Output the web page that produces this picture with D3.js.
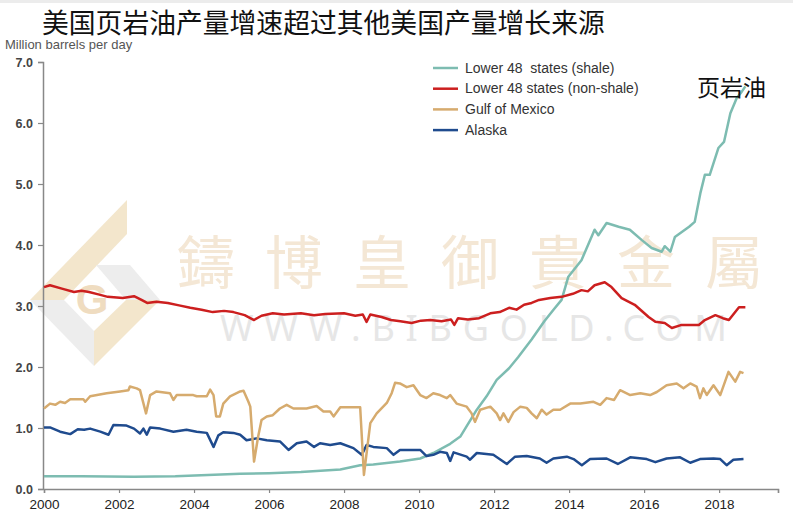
<!DOCTYPE html>
<html>
<head>
<meta charset="utf-8">
<script src="https://cdn.jsdelivr.net/npm/d3@7"></script>
<style>
  body { margin: 0; background: #fff; }
  svg { display: block; }
</style>
</head>
<body>
<div id="chart"></div>
<script>
// values, [year, million barrels per day]
const shale = [[2000.0,0.21],[2001.0,0.21],[2002.4,0.20],[2003.5,0.21],[2005.23,0.25],[2006.0,0.26],[2006.85,0.28],[2007.9,0.32],[2008.43,0.39],[2008.78,0.40],[2009.49,0.45],[2010.03,0.50],[2010.38,0.59],[2010.83,0.74],[2011.1,0.86],[2011.27,1.03],[2011.54,1.30],[2011.8,1.52],[2012.07,1.79],[2012.4,1.98],[2012.64,2.16],[2013.0,2.45],[2013.34,2.75],[2013.6,2.95],[2013.8,3.10],[2013.98,3.48],[2014.33,3.75],[2014.68,4.25],[2014.78,4.16],[2015.0,4.36],[2015.32,4.30],[2015.62,4.25],[2015.94,4.08],[2016.2,3.95],[2016.47,3.89],[2016.55,3.98],[2016.7,3.89],[2016.82,4.13],[2017.2,4.30],[2017.35,4.38],[2017.5,4.85],[2017.62,5.15],[2017.75,5.15],[2017.98,5.59],[2018.13,5.69],[2018.3,6.16],[2018.47,6.41],[2018.6,6.51],[2018.7,6.60]];

const nonShale = [[2000.0,3.31],[2000.16,3.34],[2000.5,3.28],[2000.8,3.23],[2001.0,3.25],[2001.2,3.23],[2001.45,3.19],[2001.7,3.15],[2002.1,3.13],[2002.4,3.16],[2002.6,3.10],[2002.75,3.05],[2003.0,3.07],[2003.3,3.05],[2003.6,3.01],[2003.9,2.97],[2004.2,2.94],[2004.5,2.90],[2004.8,2.92],[2005.05,2.90],[2005.35,2.85],[2005.6,2.77],[2005.8,2.84],[2006.1,2.88],[2006.4,2.86],[2006.85,2.88],[2007.2,2.85],[2007.5,2.87],[2008.0,2.88],[2008.3,2.84],[2008.5,2.86],[2008.6,2.74],[2008.7,2.86],[2009.0,2.82],[2009.25,2.77],[2009.5,2.75],[2009.8,2.72],[2010.05,2.76],[2010.3,2.77],[2010.6,2.75],[2010.85,2.78],[2010.94,2.69],[2011.04,2.80],[2011.3,2.78],[2011.6,2.80],[2011.9,2.88],[2012.15,2.90],[2012.4,2.97],[2012.6,2.94],[2012.8,3.02],[2013.0,3.05],[2013.2,3.10],[2013.5,3.13],[2013.8,3.15],[2014.1,3.20],[2014.33,3.26],[2014.5,3.24],[2014.68,3.34],[2014.95,3.39],[2015.13,3.31],[2015.4,3.13],[2015.75,3.02],[2016.12,2.82],[2016.3,2.74],[2016.55,2.72],[2016.74,2.64],[2017.0,2.69],[2017.46,2.69],[2017.62,2.77],[2017.9,2.85],[2018.1,2.80],[2018.26,2.77],[2018.53,2.98],[2018.7,2.98]];

const gulf = [[2000.0,1.32],[2000.16,1.40],[2000.3,1.38],[2000.43,1.43],[2000.56,1.41],[2000.7,1.47],[2001.05,1.47],[2001.1,1.43],[2001.23,1.52],[2001.67,1.57],[2002.03,1.60],[2002.25,1.62],[2002.29,1.68],[2002.47,1.65],[2002.56,1.62],[2002.72,1.24],[2002.83,1.54],[2003.0,1.60],[2003.36,1.57],[2003.45,1.46],[2003.54,1.54],[2003.98,1.54],[2004.07,1.52],[2004.34,1.52],[2004.43,1.63],[2004.52,1.54],[2004.59,1.19],[2004.69,1.19],[2004.78,1.40],[2004.96,1.52],[2005.23,1.60],[2005.32,1.61],[2005.45,1.43],[2005.5,1.35],[2005.6,0.45],[2005.71,0.86],[2005.8,1.13],[2005.94,1.19],[2006.1,1.21],[2006.29,1.32],[2006.47,1.38],[2006.65,1.32],[2007.0,1.32],[2007.27,1.36],[2007.45,1.27],[2007.63,1.27],[2007.72,1.19],[2007.9,1.34],[2008.43,1.34],[2008.53,0.23],[2008.7,1.08],[2008.87,1.24],[2009.14,1.41],[2009.27,1.57],[2009.36,1.74],[2009.49,1.73],[2009.67,1.67],[2009.85,1.70],[2010.03,1.54],[2010.2,1.49],[2010.38,1.57],[2010.56,1.54],[2010.74,1.49],[2010.83,1.54],[2011.0,1.40],[2011.27,1.35],[2011.4,1.24],[2011.49,1.10],[2011.63,1.30],[2011.9,1.35],[2012.07,1.24],[2012.16,1.13],[2012.25,1.24],[2012.38,1.10],[2012.52,1.26],[2012.7,1.35],[2012.87,1.33],[2013.0,1.24],[2013.14,1.16],[2013.27,1.30],[2013.4,1.22],[2013.58,1.30],[2013.76,1.30],[2014.03,1.40],[2014.3,1.40],[2014.65,1.43],[2014.83,1.38],[2015.0,1.49],[2015.2,1.46],[2015.36,1.62],[2015.63,1.54],[2015.9,1.57],[2016.16,1.54],[2016.34,1.59],[2016.6,1.70],[2016.87,1.73],[2017.05,1.65],[2017.23,1.73],[2017.4,1.68],[2017.49,1.49],[2017.58,1.65],[2017.67,1.54],[2017.85,1.70],[2018.03,1.54],[2018.25,1.92],[2018.43,1.76],[2018.56,1.92],[2018.65,1.90]];

const alaska = [[2000.0,1.01],[2000.16,1.01],[2000.43,0.94],[2000.7,0.90],[2000.9,0.98],[2001.07,0.97],[2001.23,0.99],[2001.5,0.94],[2001.72,0.89],[2001.85,1.05],[2002.2,1.04],[2002.4,0.99],[2002.56,0.91],[2002.65,0.99],[2002.74,0.89],[2002.83,1.01],[2003.1,0.99],[2003.45,0.94],[2003.8,0.97],[2004.07,0.94],[2004.34,0.92],[2004.52,0.69],[2004.65,0.88],[2004.78,0.93],[2005.05,0.92],[2005.23,0.89],[2005.4,0.80],[2005.67,0.83],[2005.94,0.80],[2006.29,0.78],[2006.52,0.64],[2006.74,0.75],[2007.0,0.78],[2007.2,0.69],[2007.36,0.75],[2007.63,0.72],[2007.9,0.75],[2008.25,0.67],[2008.47,0.56],[2008.6,0.72],[2008.78,0.69],[2009.14,0.67],[2009.32,0.56],[2009.49,0.64],[2010.03,0.64],[2010.2,0.54],[2010.38,0.56],[2010.56,0.61],[2010.74,0.59],[2010.83,0.46],[2010.92,0.60],[2011.27,0.53],[2011.36,0.48],[2011.54,0.59],[2011.98,0.56],[2012.34,0.41],[2012.56,0.53],[2012.87,0.54],[2013.22,0.50],[2013.4,0.43],[2013.58,0.50],[2013.94,0.53],[2014.12,0.49],[2014.34,0.39],[2014.56,0.49],[2015.0,0.50],[2015.3,0.41],[2015.63,0.52],[2016.07,0.49],[2016.3,0.44],[2016.6,0.50],[2016.96,0.52],[2017.23,0.43],[2017.49,0.49],[2017.85,0.50],[2018.03,0.49],[2018.2,0.39],[2018.38,0.48],[2018.65,0.49]];

const seriesNames = ["Lower 48  states (shale)", "Lower 48 states (non-shale)", "Gulf of Mexico", "Alaska"];
const seriesColors = ["#7dbcb1", "#cc1f1f", "#d6ab6e", "#1f4b8e"];
const yTicks = [0, 1, 2, 3, 4, 5, 6, 7];
const xTicks = [2000, 2002, 2004, 2006, 2008, 2010, 2012, 2014, 2016, 2018];
const title = "美国页岩油产量增速超过其他美国产量增长来源";
const unitLabel = "Million barrels per day";
const callout = "页岩油";
const watermarkCn = ["鑄", "博", "皇", "御", "貴", "金", "屬"];
const watermarkUrl = "WWW.BIBGOLD.COM";

const width = 793, height = 524;

const svg = d3.select("#chart").append("svg")
    .attr("width", width)
    .attr("height", height);

const x = d3.scaleLinear().domain([2000, 2019.57]).range([44, 778]);
const y = d3.scaleLinear().domain([0, 7]).range([489, 62]);

svg.append("rect").attr("width", width).attr("height", 3).attr("fill", "#ececec");

// watermark logo
const logo = svg.append("g").attr("class", "logo");
logo.append("polygon").attr("points", "127,200 127,234 64,300 30,300").attr("fill", "#f3e6cc");
logo.append("polygon").attr("points", "30,300 64,300 94,331 94,366").attr("fill", "#ededed");
logo.append("polygon").attr("points", "96,265 130,265 160,300 126,300").attr("fill", "#ededed");
logo.append("polygon").attr("points", "126,300 160,300 94,366 94,331").attr("fill", "#f3e6cc");
logo.append("text")
    .attr("x", 92).attr("y", 314)
    .attr("text-anchor", "middle")
    .attr("font-family", "Liberation Sans, Arial, sans-serif")
    .attr("font-weight", "bold")
    .attr("font-size", 42)
    .attr("fill", "#efdcc0")
    .text("G");

// watermark text
svg.append("g").selectAll("text")
    .data(watermarkCn)
    .enter().append("text")
    .attr("x", (d, i) => 206 + i * 88)
    .attr("y", 284)
    .attr("text-anchor", "middle")
    .attr("font-family", "Noto Sans CJK TC, sans-serif")
    .attr("font-size", 58)
    .attr("fill", "#f4e7d5")
    .text(d => d);

svg.append("text")
    .attr("x", 220).attr("y", 341)
    .attr("textLength", 507)
    .attr("lengthAdjust", "spacing")
    .attr("font-family", "Noto Sans, sans-serif")
    .attr("font-size", 36)
    .attr("fill", "#e6e6e6")
    .text(watermarkUrl);

// axes
const yAxis = svg.append("g")
    .attr("transform", "translate(43,0)")
    .call(d3.axisLeft(y).tickValues(yTicks).tickFormat(d3.format(".1f")).tickSize(5).tickPadding(5));

const xAxis = svg.append("g")
    .attr("transform", "translate(0,489)")
    .call(d3.axisBottom(x).tickValues(xTicks.concat([2019.57])).tickFormat(d => d % 1 === 0 ? d : "").tickSize(4).tickPadding(6));

[yAxis, xAxis].forEach(function (g) {
    g.select(".domain").attr("stroke", "#888").attr("stroke-width", 1.5);
    g.selectAll(".tick line").attr("stroke", "#888").attr("stroke-width", 1.2);
    g.selectAll(".tick text")
        .attr("fill", "#333")
        .attr("font-family", "Liberation Sans, Arial, sans-serif");
});
yAxis.selectAll(".tick text").attr("font-size", 12.5).attr("font-weight", "bold").attr("fill", "#444");
xAxis.selectAll(".tick text").attr("font-size", 13.5).attr("fill", "#222");

// lines
const line = d3.line()
    .x(d => x(d[0]))
    .y(d => y(d[1]));

const allSeries = [shale, nonShale, alaska, gulf];
const allColors = [seriesColors[0], seriesColors[1], seriesColors[3], seriesColors[2]];

svg.append("g").selectAll("path")
    .data(allSeries)
    .enter().append("path")
    .attr("d", line)
    .attr("fill", "none")
    .attr("stroke", (d, i) => allColors[i])
    .attr("stroke-width", 2.5)
    .attr("stroke-linejoin", "round");

// legend
const legend = svg.append("g").selectAll("g")
    .data(seriesNames)
    .enter().append("g")
    .attr("transform", (d, i) => "translate(433," + (68 + i * 20.7) + ")");

legend.append("line")
    .attr("x1", 0).attr("x2", 25)
    .attr("stroke", (d, i) => seriesColors[i])
    .attr("stroke-width", 2.5);

legend.append("text")
    .attr("x", 32).attr("y", 4.5)
    .attr("xml:space", "preserve")
    .style("white-space", "pre")
    .attr("font-family", "Liberation Sans, Arial, sans-serif")
    .attr("font-size", 14)
    .attr("fill", "#333")
    .text(d => d);

// titles
svg.append("text")
    .attr("x", 42).attr("y", 33)
    .attr("font-family", "Noto Sans CJK SC, sans-serif")
    .attr("font-size", 26.8)
    .attr("fill", "#111")
    .text(title);

svg.append("text")
    .attr("x", 5).attr("y", 49)
    .attr("font-family", "Liberation Sans, Arial, sans-serif")
    .attr("font-size", 13)
    .attr("fill", "#555")
    .text(unitLabel);

svg.append("text")
    .attr("x", 697).attr("y", 96)
    .attr("font-family", "Noto Sans CJK SC, sans-serif")
    .attr("font-size", 23)
    .attr("fill", "#111")
    .text(callout);
</script>
</body>
</html>
